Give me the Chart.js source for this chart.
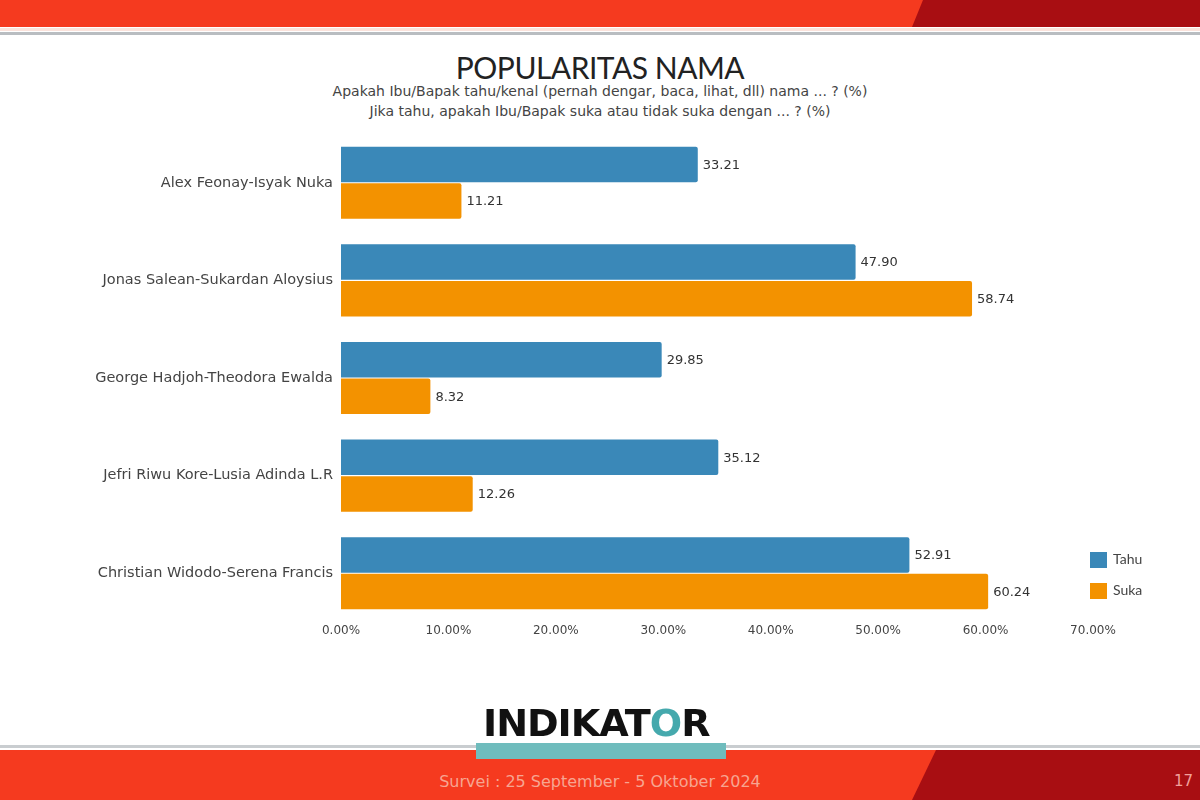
<!DOCTYPE html>
<html lang="id">
<head>
<meta charset="UTF-8">
<title>Popularitas Nama</title>
<style>
  html, body { margin: 0; padding: 0; background: #fff; }
  body { width: 1200px; height: 800px; position: relative; overflow: hidden; font-family: "DejaVu Sans", sans-serif; }
  .topband { position: absolute; left: 0; top: 0; width: 1200px; height: 27px; background: #f53a1f; }
  .topdark { position: absolute; left: 0; top: 0; width: 1200px; height: 27px; background: #a80e12;
             clip-path: polygon(923px 0, 1200px 0, 1200px 27px, 912px 27px); }
  .topline { position: absolute; left: 0; top: 28px; width: 1200px; height: 3px; background: #fbe3dc; }
  .topline2 { position: absolute; left: 0; top: 32px; width: 1200px; height: 3px; background: #b9bdc1; }
  .title { position: absolute; left: 0; top: 49px; width: 1200px; text-align: center; font-size: 30px; color: #222; letter-spacing: -0.5px; font-family: Lato, sans-serif; }
  .sub { position: absolute; left: 0; width: 1200px; text-align: center; font-size: 14px; color: #444; }
  .legend { position: absolute; left: 1090px; font-size: 14px; color: #444; font-family: Lato, sans-serif; }
  .legend span { display: inline-block; width: 17px; height: 16px; vertical-align: middle; margin-right: 6px; }
  .logo { position: absolute; left: 483px; top: 702px; font-size: 37px; font-weight: 700; letter-spacing: -1px; color: #111; transform: scaleX(1.03); transform-origin: left; }
  .logo b { color: #45a9ad; }
  .botline { position: absolute; left: 0; top: 745px; width: 1200px; height: 3px; background: #c9cdd0; }
  .botband { position: absolute; left: 0; top: 750px; width: 1200px; height: 50px; background: #f53a1f; }
  .botdark { position: absolute; left: 0; top: 750px; width: 1200px; height: 50px; background: #a80e12;
             clip-path: polygon(936px 0, 1200px 0, 1200px 50px, 912px 50px); }
  .teal { position: absolute; left: 476px; top: 743px; width: 250px; height: 16px; background: #6fbcbd; }
  .foot { position: absolute; left: 0; top: 772px; width: 1200px; text-align: center; font-size: 16px; color: #f7a591; }
  .page { position: absolute; left: 1174px; top: 772px; font-size: 15px; color: #f2a09a; }
  #wrap { position: absolute; left: 0; top: 0; width: 1200px; height: 800px; }
</style>
</head>
<body>
<div class="topband"></div>
<div class="topdark"></div>
<div class="topline"></div>
<div class="topline2"></div>
<div class="title">POPULARITAS NAMA</div>
<div class="sub" style="top:83px">Apakah Ibu/Bapak tahu/kenal (pernah dengar, baca, lihat, dll) nama ... ? (%)</div>
<div class="sub" style="top:103px">Jika tahu, apakah Ibu/Bapak suka atau tidak suka dengan ... ? (%)</div>

<div id="wrap"><canvas id="myChart" width="1200" height="800"></canvas></div>

<div class="legend" style="top:550px"><span style="background:#3a88b8"></span>Tahu</div>
<div class="legend" style="top:581px"><span style="background:#f39200"></span>Suka</div>

<div class="logo">INDIKAT<b>O</b>R</div>
<div class="botline"></div>
<div class="botband"></div>
<div class="botdark"></div>
<div class="teal"></div>
<div class="foot">Survei : 25 September - 5 Oktober 2024</div>
<div class="page">17</div>

<script src="https://cdn.jsdelivr.net/npm/chart.js"></script>
<script>
  const names = [
    'Alex Feonay-Isyak Nuka',
    'Jonas Salean-Sukardan Aloysius',
    'George Hadjoh-Theodora Ewalda',
    'Jefri Riwu Kore-Lusia Adinda L.R',
    'Christian Widodo-Serena Francis'
  ];
  const tahu = [33.21, 47.90, 29.85, 35.12, 52.91];
  const suka = [11.21, 58.74, 8.32, 12.26, 60.24];

  const labelFont = '"DejaVu Sans", sans-serif';

  // value labels right of each bar
  const valueLabels = {
    id: 'valueLabels',
    afterDatasetsDraw(chart) {
      const c = chart.ctx;
      c.save();
      c.font = '13px ' + labelFont;
      c.fillStyle = '#333';
      c.textBaseline = 'middle';
      chart.data.datasets.forEach((ds, i) => {
        chart.getDatasetMeta(i).data.forEach((bar, j) => {
          c.fillText(ds.data[j].toFixed(2), bar.x + 5, bar.y + 1);
        });
      });
      c.restore();
    }
  };

  new Chart(document.getElementById('myChart'), {
    type: 'bar',
    data: {
      labels: names,
      datasets: [
        { label: 'Tahu', data: tahu, backgroundColor: '#3a88b8', borderRadius: 2, categoryPercentage: 0.75, barPercentage: 0.97 },
        { label: 'Suka', data: suka, backgroundColor: '#f39200', borderRadius: 2, categoryPercentage: 0.75, barPercentage: 0.97 }
      ]
    },
    options: {
      indexAxis: 'y',
      responsive: false,
      animation: false,
      layout: { padding: { left: 0, right: 107, top: 134, bottom: 148 } },
      plugins: { legend: { display: false }, tooltip: { enabled: false } },
      scales: {
        x: {
          min: 0, max: 70,
          grid: { display: false, drawTicks: false },
          border: { display: false },
          ticks: {
            stepSize: 10, padding: 2, color: '#444',
            font: { size: 12, family: labelFont },
            callback: v => v.toFixed(2) + '%'
          },
          afterFit(s) { s.height = 30; }
        },
        y: {
          grid: { display: false, drawTicks: false },
          border: { display: false },
          ticks: { padding: 8, color: '#444', font: { size: 14.5, family: labelFont } },
          afterFit(s) { s.width = 341; }
        }
      }
    },
    plugins: [valueLabels]
  });
</script>
</body>
</html>
